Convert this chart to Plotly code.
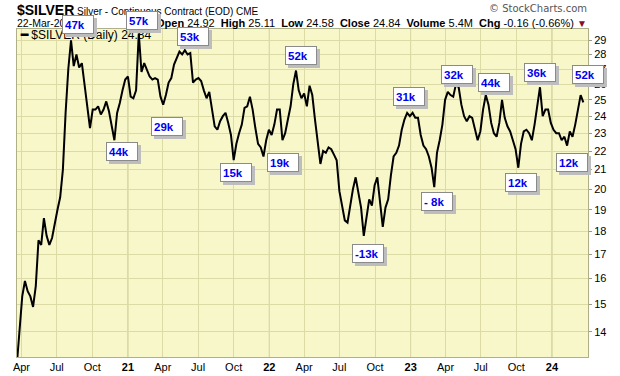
import numpy as np
import pandas as pd
import plotly.graph_objects as go

# ---------------- data ----------------
# weekly (Friday) closes of $SILVER, 2020-03-20 .. 2024-03-22
silver_close = [
    12.9, 14.2, 15.3, 15.9, 15.5, 15.3, 14.9, 15.7, 17.6, 17.4,
    18.6, 17.8, 17.4, 17.7, 18.4, 19.0, 19.6, 21.0, 24.2, 27.0,
    29.0, 27.2, 28.0, 27.1, 27.4, 26.0, 24.4, 23.3, 24.4, 24.4,
    24.6, 24.1, 24.4, 24.9, 24.3, 23.5, 22.6, 24.2, 24.8, 25.6,
    26.3, 26.5, 25.2, 25.1, 25.6, 29.5, 26.8, 27.4, 27.0, 26.5,
    26.3, 26.4, 26.3, 25.2, 24.7, 25.3, 26.1, 26.4, 27.3, 27.8,
    28.2, 28.0, 28.3, 28.0, 28.1, 26.1, 26.3, 26.4, 26.2, 25.6,
    25.1, 25.5, 24.4, 23.4, 23.2, 23.7, 24.0, 24.2, 23.6, 22.9,
    21.5, 22.4, 23.0, 23.5, 24.5, 24.6, 25.2, 24.4, 23.3, 22.4,
    22.2, 21.7, 22.6, 23.2, 22.9, 23.5, 24.4, 24.4, 22.6, 23.0,
    23.8, 24.6, 26.0, 26.9, 25.6, 25.1, 25.4, 24.6, 25.9, 25.3,
    23.8, 22.4, 21.3, 22.0, 21.9, 22.2, 22.1, 21.8, 21.5, 19.9,
    19.2, 18.5, 18.4, 19.2, 20.0, 20.6, 19.9, 19.1, 17.8, 18.6,
    19.5, 19.2, 20.2, 20.6, 19.2, 18.2, 19.1, 19.5, 20.7, 21.7,
    21.9, 22.3, 23.2, 23.8, 24.2, 24.0, 24.2, 23.9, 23.9, 22.9,
    22.3, 22.1, 21.7, 21.1, 20.1, 21.9, 22.6, 23.5, 25.0, 25.5,
    25.3, 25.2, 26.0, 25.8, 24.7, 24.0, 23.7, 24.0, 23.9, 23.3,
    22.6, 23.1, 24.4, 25.3, 24.7, 23.6, 23.0, 22.8, 23.6, 25.0,
    23.9, 23.4, 23.1, 22.6, 22.1, 21.1, 22.4, 23.1, 23.2, 23.0,
    22.6, 23.5, 24.5, 25.8, 24.0, 24.4, 24.4, 23.6, 23.2, 23.0,
    23.0, 22.6, 22.8, 22.3, 23.1, 22.8, 23.5, 24.4, 25.3, 24.84,
]
first_week = "2020-03-20"

# COT net-position call-outs
label_text = ["47k", "57k", "53k", "29k", "44k", "15k", "19k", "52k", "-13k",
              "31k", "32k", "44k", "36k", "52k", "- 8k", "12k", "12k"]
label_dates = ["2020-08-26", "2021-02-05", "2021-06-19", "2021-04-12", "2020-12-16",
               "2021-10-07", "2022-02-05", "2022-03-24", "2022-09-13", "2022-12-28",
               "2023-05-01", "2023-08-04", "2023-12-01", "2024-04-02", "2023-03-11",
               "2023-10-14", "2024-02-22"]
label_levels = [30.2, 30.5, 29.3, 23.4, 21.96, 20.83, 21.39, 27.95, 17.05, 25.22,
                26.65, 26.12, 26.79, 26.62, 19.40, 20.34, 21.36]

y_ticks = list(range(14, 30))
quarter_starts = pd.date_range("2020-04-01", "2024-01-01", freq="QS")
month_names = {4: "Apr", 7: "Jul", 10: "Oct"}
year_starts = ["2021-01-01", "2022-01-01", "2023-01-01", "2024-01-01"]

symbol = "$SILVER"
description = "Silver - Continuous Contract (EOD)"
exchange = "CME"
quote_date = "22-Mar-2024"
q_open, q_high, q_low, q_close = 24.92, 25.11, 24.58, 24.84
q_volume = "5.4M"
q_chg, q_chg_pct = -0.16, -0.66

# ---------------- figure ----------------
W, H = 620, 376
L, R, T, B = 17, 32, 29, 19
PW, PH = W - L - R, H - T - B
FONT = "Liberation Sans, Arial, sans-serif"

def px(xp):
    return (xp - L) / PW

def py(yp):
    return (H - B - yp) / PH

dates = pd.date_range(first_week, periods=len(silver_close), freq="W-FRI")
ylo, yhi = np.log10(13.15), np.log10(29.84)

fig = go.Figure()
fig.add_trace(go.Scatter(x=dates, y=silver_close, mode="lines",
                         line=dict(color="black", width=2), hoverinfo="x+y"))

tick_text = [month_names.get(d.month, f"<b>{d.year % 100:02d}</b>") for d in quarter_starts]

for ys in year_starts:
    fig.add_shape(type="line", xref="x", yref="paper", x0=ys, x1=ys, y0=0, y1=1,
                  line=dict(color="#C4C98E", width=1), layer="below")

fig.update_layout(
    template="none",
    width=W, height=H, margin=dict(l=L, r=R, t=T, b=B, autoexpand=False),
    paper_bgcolor="white", plot_bgcolor="#F8F7C9", showlegend=False,
    font=dict(family=FONT, size=11, color="black"),
    xaxis=dict(type="date", range=["2020-03-20 12:00", "2024-04-03"], automargin=False,
               tickmode="array", tickvals=quarter_starts, ticktext=tick_text,
               showgrid=True, gridcolor="#DCDBA6", gridwidth=1, ticks="",
               showline=True, mirror=True, linecolor="#B0B088", linewidth=1,
               tickfont=dict(size=11, color="black"), zeroline=False),
    yaxis=dict(type="log", side="right", range=[ylo, yhi], automargin=False,
               tickmode="array", tickvals=y_ticks, ticktext=[str(v) for v in y_ticks],
               showgrid=True, gridcolor="#DCDBA6", gridwidth=1,
               ticks="outside", ticklen=3, tickcolor="#9A9A80",
               showline=True, mirror=True, linecolor="#B0B088", linewidth=1,
               tickfont=dict(size=11, color="black"), zeroline=False),
)

ann = []
sp = "\u00a0"
# header line 1
ann.append(dict(xref="paper", yref="paper", x=px(15), y=py(10), xanchor="left", yanchor="middle",
                showarrow=False, font=dict(family=FONT, size=10, color="black"),
                text=f"<span style='font-size:14px'><b>{symbol}</b></span> {description} {exchange}"))
# header line 2: date at left, quote block right-aligned
ann.append(dict(xref="paper", yref="paper", x=px(15), y=py(23), xanchor="left", yanchor="middle",
                showarrow=False, font=dict(family=FONT, size=10.5, color="black"), text=quote_date))
chg_str = f"{q_chg:.2f} ({q_chg_pct:.2f}%)"
quote = (f"<b>Open</b> {q_open:.2f}{sp}{sp}<b>High</b> {q_high:.2f}{sp}{sp}"
         f"<b>Low</b> {q_low:.2f}{sp}{sp}<b>Close</b> {q_close:.2f}{sp}{sp}<b>Volume</b> {q_volume}"
         f"{sp}{sp}<b>Chg</b> {chg_str} <span style='color:#8B0A2A;font-size:10px'>▼</span>")
ann.append(dict(xref="paper", yref="paper", x=px(589), y=py(23), xanchor="right", yanchor="middle",
                showarrow=False, font=dict(family=FONT, size=11, color="black"), text=quote))
ann.append(dict(xref="paper", yref="paper", x=px(589), y=py(8), xanchor="right", yanchor="middle",
                showarrow=False, font=dict(family="DejaVu Sans, sans-serif", size=10, color="#555555"),
                text="© StockCharts.com"))
# in-plot legend
ann.append(dict(xref="paper", yref="paper", x=px(18), y=py(35), xanchor="left", yanchor="middle",
                showarrow=False, font=dict(family=FONT, size=12, color="black"),
                text=f"<b>━</b> {symbol} (Daily) {silver_close[-1]:.2f}"))

# call-out boxes (shadow first, then box)
for t, d, lv in zip(label_text, label_dates, label_levels):
    yp = (np.log10(lv) - ylo) / (yhi - ylo)
    base = dict(xref="x", yref="paper", x=d, y=yp, xanchor="center", yanchor="middle",
                showarrow=False, width=26, height=13, align="left", borderpad=2, borderwidth=1)
    ann.append(dict(base, text=sp, bgcolor="#BDBDBD", bordercolor="#BDBDBD",
                    xshift=3, yshift=-3,
                    font=dict(family=FONT, size=11.5, color="#BDBDBD")))
    ann.append(dict(base, text=f"<b>{t}</b>", bgcolor="white", bordercolor="#8A8A8A",
                    font=dict(family=FONT, size=11.5, color="#0000F0")))

fig.update_layout(annotations=ann)

fig.write_html("out.html", config={"displayModeBar": False},
               post_script="document.body.style.margin='0';document.body.style.overflow='hidden';")
